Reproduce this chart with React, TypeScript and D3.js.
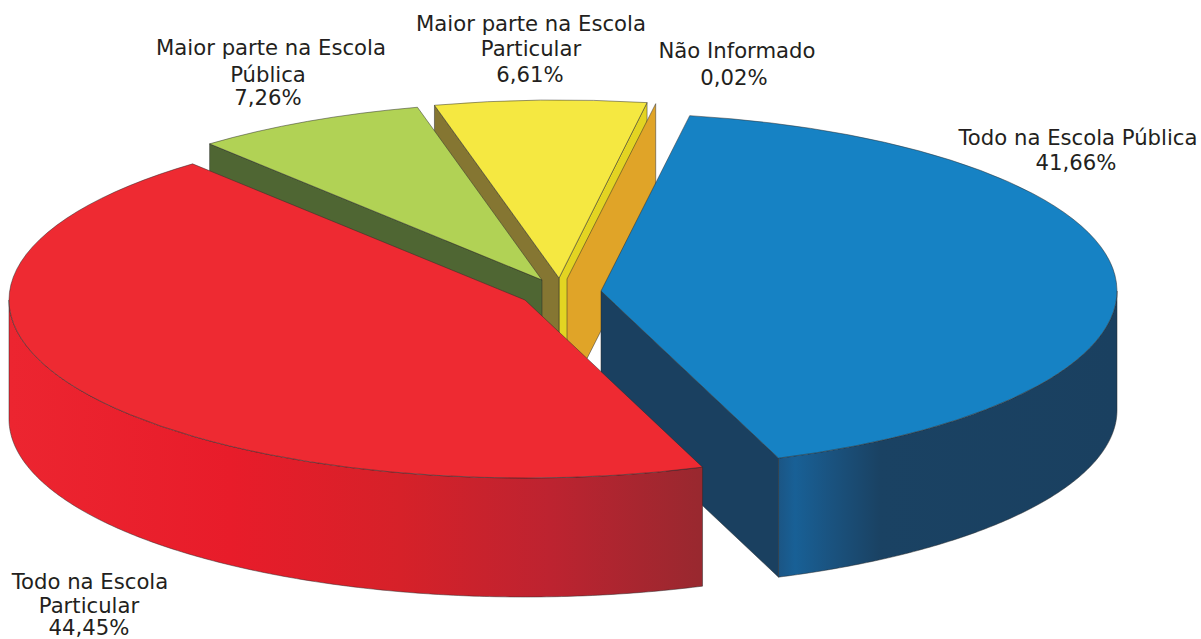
import React from "react";
import * as d3 from "d3";

const names = [
  "Todo na Escola Pública",
  "Todo na Escola Particular",
  "Maior parte na Escola Pública",
  "Maior parte na Escola Particular",
  "Não Informado",
];
const values = [41.66, 44.45, 7.26, 6.61, 0.02];
const percentLabels = ["41,66%", "44,45%", "7,26%", "6,61%", "0,02%"];

const width = 1201;
const height = 639;
const rx = 516;
const ry = 178;
const depth = 119;
const firstAngle = (9.9 * Math.PI) / 180;

// where each exploded slice has its tip
const apex = [
  [601, 291],
  [525, 300],
  [542, 280],
  [559, 278],
  [567, 279],
];
const topColors = ["#1682c4", "#ee2a32", "#b1d255", "#f5e841", "#e3d422"];
const sideColors = ["#1a4060", "#9a2830", "#4f6633", "#857632", "#e3d422"];

// label lines, each is [text, x, baseline]
const labelLines: [string, number, number][] = [
  ["Todo na Escola Pública", 1078, 145],
  [percentLabels[0], 1076, 170],
  ["Todo na Escola", 90, 589],
  ["Particular", 89, 613],
  [percentLabels[1], 89, 635],
  ["Maior parte na Escola", 271, 55],
  ["Pública", 268, 82],
  [percentLabels[2], 268, 105],
  ["Maior parte na Escola", 531, 31],
  ["Particular", 531, 56],
  [percentLabels[3], 530, 82],
  ["Não Informado", 737, 58],
  [percentLabels[4], 734, 85],
];

const pie = d3
  .pie<number>()
  .sort(null)
  .startAngle(firstAngle)
  .endAngle(firstAngle + 2 * Math.PI);
const slices = pie(values);

const arc = d3.arc<d3.PieArcDatum<number>>().innerRadius(0).outerRadius(rx);
const px = (i: number, a: number) => apex[i][0] + rx * Math.sin(a);
const py = (i: number, a: number) => apex[i][1] - ry * Math.cos(a);

const lineGen = d3.line();
const radialWall = (i: number, a: number) =>
  lineGen([
    [apex[i][0], apex[i][1]],
    [px(i, a), py(i, a)],
    [px(i, a), py(i, a) + depth],
    [apex[i][0], apex[i][1] + depth],
  ]) + "Z";

const outerWall = (i: number, a0: number, a1: number) =>
  d3
    .area<number>()
    .x((a) => px(i, a))
    .y0((a) => py(i, a))
    .y1((a) => py(i, a) + depth)(d3.range(a0, a1, 0.01).concat([a1]));

const blueStops = [
  [778, "#1b5584"],
  [795, "#186096"],
  [830, "#1a5380"],
  [880, "#1a4263"],
  [1117, "#1a4060"],
];
const redStops = [
  [10, "#ec2530"],
  [230, "#e81c2a"],
  [400, "#d62129"],
  [550, "#bd2330"],
  [700, "#99282f"],
];

function Grad({ id, stops, x1, x2 }: any) {
  const t = d3.scaleLinear().domain([x1, x2]).range([0, 1]);
  return (
    <linearGradient id={id} gradientUnits="userSpaceOnUse" x1={x1} x2={x2} y1={0} y2={0}>
      {stops.map((s: any) => (
        <stop key={s[0]} offset={t(s[0])} stopColor={s[1]} />
      ))}
    </linearGradient>
  );
}

const edge = { stroke: "#2a2a2a", strokeWidth: 0.7, strokeOpacity: 0.7 };

function Top({ i }: { i: number }) {
  return (
    <path
      d={arc(slices[i]) as string}
      transform={`translate(${apex[i][0]},${apex[i][1]}) scale(1,${ry / rx})`}
      fill={topColors[i]}
      vectorEffect="non-scaling-stroke"
      {...edge}
    />
  );
}

export default function App() {
  const [blue, red, green, yellow, orange] = slices;
  return (
    <svg
      width={width}
      height={height}
      style={{ position: "absolute", left: 0, top: 0 }}
      role="img"
      aria-label={names.join(", ")}
    >
      <defs>
        <Grad id="blueWall" stops={blueStops} x1={778} x2={1117} />
        <Grad id="redWall" stops={redStops} x1={10} x2={700} />
      </defs>

      {/* back to front */}
      <path d={radialWall(3, yellow.endAngle)} fill={sideColors[4]} {...edge} />
      <path d={radialWall(4, orange.endAngle)} fill="#e0a428" {...edge} />
      <path d={radialWall(3, yellow.startAngle)} fill={sideColors[3]} {...edge} />
      <Top i={3} />
      <path d={radialWall(2, green.startAngle)} fill={sideColors[2]} {...edge} />
      <Top i={2} />
      <path d={radialWall(0, blue.endAngle)} fill={sideColors[0]} {...edge} />
      <path d={outerWall(0, Math.PI / 2, blue.endAngle) as string} fill="url(#blueWall)" {...edge} />
      <Top i={0} />
      <path d={outerWall(1, red.startAngle, (3 * Math.PI) / 2) as string} fill="url(#redWall)" {...edge} />
      <Top i={1} />

      <g fontFamily="'DejaVu Sans', sans-serif" fontSize={21.2} fill="#231f20" textAnchor="middle">
        {labelLines.map(([t, x, y], k) => (
          <text key={k} x={x} y={y}>
            {t}
          </text>
        ))}
      </g>
    </svg>
  );
}
